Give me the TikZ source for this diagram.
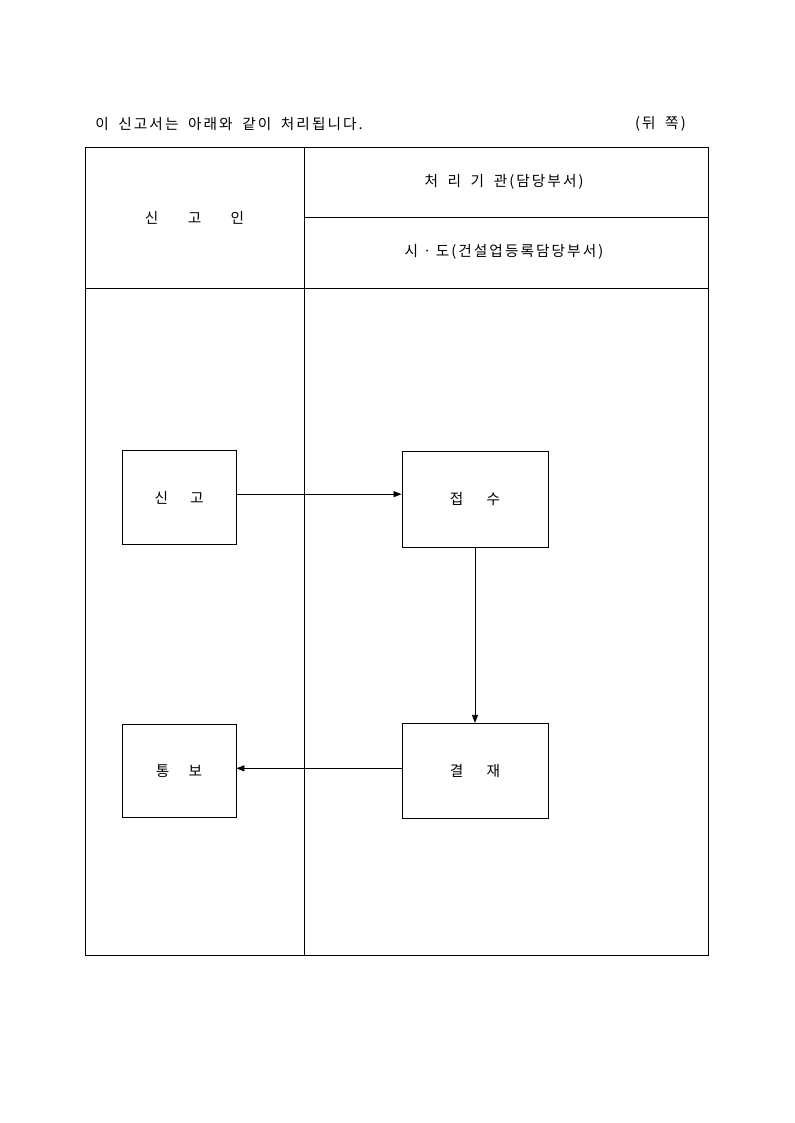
\documentclass[tikz,border=0pt]{standalone}
\usepackage{fontspec}
\setmainfont{Noto Sans CJK KR}
\newfontfamily\wideko[LetterSpace=14,WordSpace=1.8]{Noto Sans CJK KR}
\usetikzlibrary{arrows.meta}
\tikzset{
  cellline/.style={line width=0.65pt},
  stepbox/.style={draw, line width=0.65pt, inner sep=0pt},
  smallbox/.style={stepbox, minimum width=85.5pt, minimum height=70pt},
  widebox/.style={stepbox, minimum width=109.5pt, minimum height=71.5pt},
  flow/.style={line width=0.6pt, -{Triangle[length=6pt,width=4.5pt]}},
  label/.style={font=\wideko\fontsize{11}{13}\selectfont, inner sep=0pt}
}
\begin{document}
\begin{tikzpicture}[x=0.75pt, y=-0.75pt]
    \useasboundingbox (0,0) rectangle (794,1123);
    % heading above the table
    \node[label, anchor=west] (title) at (95,124) {이 신고서는 아래와 같이 처리됩니다.};
    \node[label, anchor=east] (side) at (686,124) {(뒤 쪽)};
    % table frame
    \draw[cellline] (85,147) rectangle (708,955);
    \draw[cellline] (304,147) -- (304,955);
    \draw[cellline] (304,217) -- (708,217);
    \draw[cellline] (85,288) -- (708,288);
    \node[label] (applicant) at (194.5,217.5) {신\hspace{2em}고\hspace{2em}인};
    \node[label] (office) at (504,182) {처 리 기 관(담당부서)};
    \node[label] (dept) at (504,252) {시ㆍ도(건설업등록담당부서)};
    % process boxes
    \node[smallbox] (singo) at (179,497.5) {};
    \node[label] at (singo) {신\hspace{1.5em}고};
    \node[widebox] (jeopsu) at (475,499.5) {};
    \node[label] at (jeopsu) {접\hspace{1.6em}수};
    \node[smallbox] (tongbo) at (179,771) {};
    \node[label] at (tongbo) {통\hspace{1.3em}보};
    \node[widebox] (gyeoljae) at (475,771) {};
    \node[label] at (gyeoljae) {결\hspace{1.6em}재};
    % connectors
    \draw[flow] ([yshift=2.5pt]singo.east) -- ([yshift=2.5pt]singo.east -| jeopsu.west);
    \draw[flow] (jeopsu.south) -- (gyeoljae.north);
    \draw[flow] ([yshift=2pt]gyeoljae.west) -- ([yshift=2pt]gyeoljae.west -| tongbo.east);
\end{tikzpicture}
\end{document}
